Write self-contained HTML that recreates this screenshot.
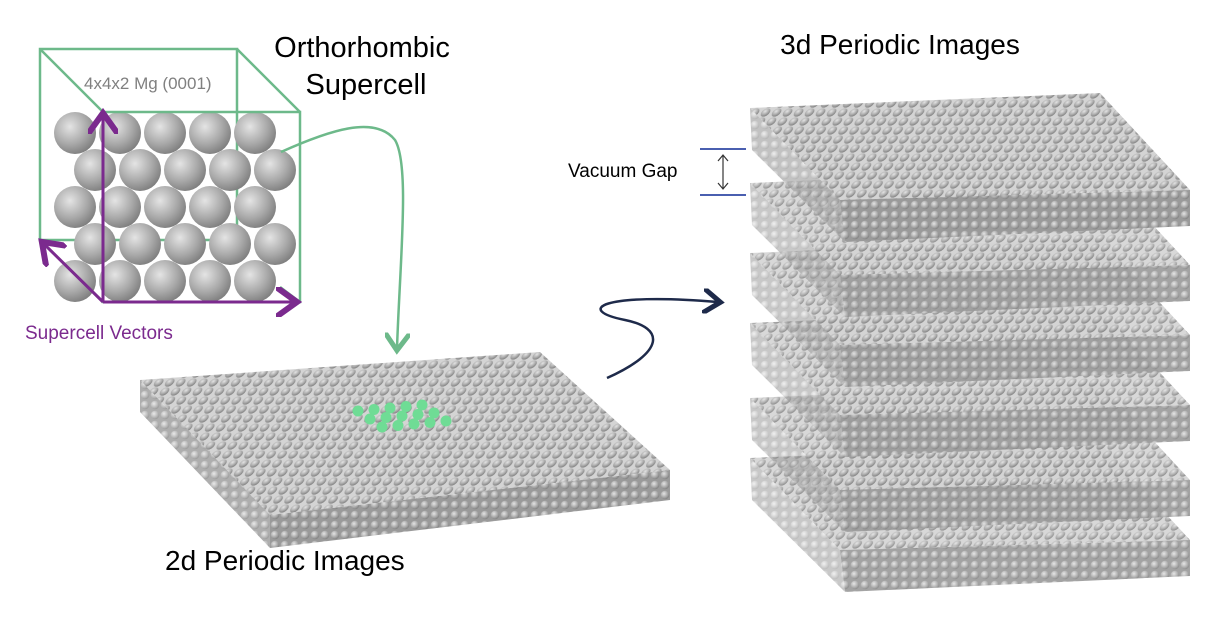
<!DOCTYPE html>
<html><head><meta charset="utf-8"><style>
html,body{margin:0;padding:0;background:#fff;}
svg{display:block;font-family:"Liberation Sans",sans-serif;}
</style></head><body>
<svg width="1214" height="617" viewBox="0 0 1214 617">
<defs>
<radialGradient id="atom" cx="0.38" cy="0.35" r="0.7">
<stop offset="0" stop-color="#e4e4e4"/><stop offset="0.6" stop-color="#a8a8a8"/><stop offset="1" stop-color="#7c7c7c"/></radialGradient>
<pattern id="lat" width="11" height="9" patternUnits="userSpaceOnUse" patternTransform="skewX(-30)">
<rect width="11" height="9" fill="#d4d4d4"/><circle cx="5.5" cy="4.5" r="4.2" fill="url(#atom)"/></pattern>
<pattern id="latf" width="10" height="10" patternUnits="userSpaceOnUse">
<rect width="10" height="10" fill="#9a9a9a"/><circle cx="5" cy="5" r="4.3" fill="url(#atom)"/></pattern>
<marker id="ag" markerWidth="10" markerHeight="10" refX="6" refY="5" orient="auto"><path d="M0,0 L7,5 L0,10" fill="none" stroke="#6db98a" stroke-width="2"/></marker>
<marker id="ap" markerWidth="10" markerHeight="10" refX="6" refY="5" orient="auto"><path d="M0,0 L7,5 L0,10" fill="none" stroke="#7b2a8e" stroke-width="2"/></marker>
<marker id="an" markerWidth="10" markerHeight="10" refX="6" refY="5" orient="auto"><path d="M0,0 L7,5 L0,10" fill="none" stroke="#1e2a4a" stroke-width="2"/></marker>
</defs>

<g>
<rect x="40" y="49" width="197" height="191" fill="none" stroke="#6db98a" stroke-width="2.5"/>
<g id="atoms"></g>
<rect x="103" y="112" width="197" height="190" fill="none" stroke="#6db98a" stroke-width="2.5"/>
<line x1="40" y1="49" x2="103" y2="112" stroke="#6db98a" stroke-width="2.5"/>
<line x1="237" y1="49" x2="300" y2="112" stroke="#6db98a" stroke-width="2.5"/>
<line x1="280" y1="287" x2="300" y2="302" stroke="#6db98a" stroke-width="2.5"/>
<line x1="103" y1="302" x2="103" y2="116" stroke="#7b2a8e" stroke-width="3" marker-end="url(#ap)"/>
<line x1="103" y1="302" x2="294" y2="302" stroke="#7b2a8e" stroke-width="3" marker-end="url(#ap)"/>
<line x1="103" y1="302" x2="44" y2="244" stroke="#7b2a8e" stroke-width="3" marker-end="url(#ap)"/>
</g>
<text x="84" y="89" font-size="17" fill="#808080">4x4x2 Mg (0001)</text>
<text x="362" y="57" font-size="29" text-anchor="middle" fill="#000">Orthorhombic</text>
<text x="366" y="94" font-size="29" text-anchor="middle" fill="#000">Supercell</text>
<text x="25" y="339" font-size="19" fill="#7b2a8e">Supercell Vectors</text>

<path d="M281,152 C330,130 375,115 395,140 C410,165 400,260 397,348" fill="none" stroke="#6db98a" stroke-width="2.5" marker-end="url(#ag)"/>

<g>
<polygon points="140,380 540,352 670,470 270,515" fill="url(#lat)"/>
<polygon points="270,515 670,470 670,500 270,548" fill="url(#latf)"/>
<polygon points="140,380 270,515 270,548 140,412" fill="url(#latf)" opacity="0.8"/>
<g id="green"></g>
</g>
<text x="165" y="570" font-size="28" fill="#000">2d Periodic Images</text>

<path d="M607,378 C665,352 665,328 625,320 C575,310 600,292 718,302" fill="none" stroke="#1e2a4a" stroke-width="2.5" marker-end="url(#an)"/>

<g id="slabs"></g>
<text x="900" y="54" font-size="28" text-anchor="middle" fill="#000">3d Periodic Images</text>

<g>
<line x1="700" y1="149" x2="746" y2="149" stroke="#4a5fb0" stroke-width="2"/>
<line x1="700" y1="195" x2="746" y2="195" stroke="#4a5fb0" stroke-width="2"/>
<line x1="723" y1="155" x2="723" y2="189" stroke="#333" stroke-width="1.2"/>
<path d="M718,161 L723,155 L728,161 M718,183 L723,189 L728,183" fill="none" stroke="#333" stroke-width="1.2"/>
</g>
<text x="568" y="177" font-size="19" fill="#000">Vacuum Gap</text>
</svg>
<script>
var NS='http://www.w3.org/2000/svg';
var ag=document.getElementById('atoms');
for(var r=0;r<5;r++)for(var c=0;c<5;c++){
 var el=document.createElementNS(NS,'circle');
 el.setAttribute('cx',75+c*45+(r%2)*20);el.setAttribute('cy',133+r*37);el.setAttribute('r',21);
 el.setAttribute('fill','url(#atom)');
 
 
 ag.appendChild(el);}
var g=document.getElementById('green');
for(var i=0;i<3;i++)for(var j=0;j<5;j++){
 var e=document.createElementNS(NS,'circle');
 e.setAttribute('cx',358+j*16+i*12);e.setAttribute('cy',411+i*8-j*1.5);e.setAttribute('r',5.5);
 e.setAttribute('fill','#6fdc95');
 
 
 g.appendChild(e);}
var s=document.getElementById('slabs');
var offs=[0,75,145,215,290,350];
for(var k=offs.length-1;k>=0;k--){
 var o=offs[k];
 var gg=document.createElementNS(NS,'g');
 
 
 gg.setAttribute('opacity',k==0?1:0.9);
 var t=document.createElementNS(NS,'polygon');
 t.setAttribute('points','750,'+(108+o)+' 1100,'+(93+o)+' 1190,'+(190+o)+' 840,'+(200+o));
 t.setAttribute('fill','url(#lat)');
 gg.appendChild(t);
 var f=document.createElementNS(NS,'polygon');
 f.setAttribute('points','840,'+(200+o)+' 1190,'+(190+o)+' 1190,'+(226+o)+' 845,'+(242+o));
 f.setAttribute('fill','url(#latf)');
 gg.appendChild(f);
 var l=document.createElementNS(NS,'polygon');
 l.setAttribute('points','750,'+(108+o)+' 840,'+(200+o)+' 845,'+(242+o)+' 752,'+(150+o));
 l.setAttribute('fill','url(#latf)');l.setAttribute('opacity','0.6');
 gg.appendChild(l);
 s.appendChild(gg);}
</script>
</body></html>
